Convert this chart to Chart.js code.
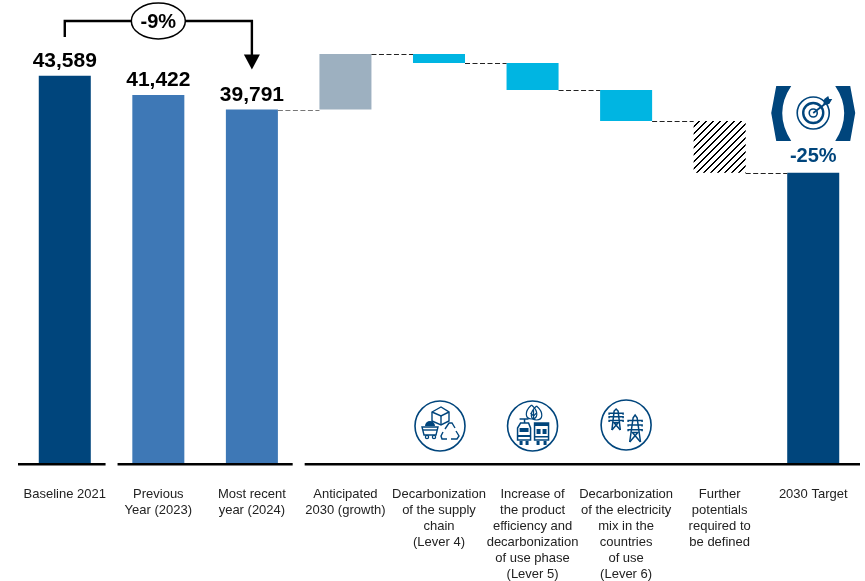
<!DOCTYPE html>
<html>
<head>
<meta charset="utf-8">
<title>Waterfall 2030</title>
<script src="https://cdn.jsdelivr.net/npm/chart.js"></script>
<style>
    html, body { margin: 0; padding: 0; background: #fff; }
    canvas { display: block; }
</style>
</head>
<body>
<canvas id="waterfallChart" width="865" height="581"></canvas>
<script>
// Dados
const categories = [
    ['Baseline 2021'],
    ['Previous', 'Year (2023)'],
    ['Most recent', 'year (2024)'],
    ['Anticipated', '2030 (growth)'],
    ['Decarbonization', 'of the supply', 'chain', '(Lever 4)'],
    ['Increase of', 'the product', 'efficiency and', 'decarbonization', 'of use phase', '(Lever 5)'],
    ['Decarbonization', 'of the electricity', 'mix in the', 'countries', 'of use', '(Lever 6)'],
    ['Further', 'potentials', 'required to', 'be defined'],
    ['2030 Target']
];
const barLows = [0, 0, 0, 39791, 45030, 41990, 38520, 32692, 0];
const barHighs = [43589, 41422, 39791, 46043, 46043, 45030, 41990, 38520, 32692];
const valueLabels = ['43,589', '41,422', '39,791'];
const connectorLevels = [39791, 46043, 45030, 41990, 38520, 32692];
const axisGroups = [[0, 0], [1, 2], [3, 8]];
const yMax = 52100;

const DARK = '#00457c';
const MID = '#3e78b6';
const GREY = '#9db0c0';
const CYAN = '#00b5e2';

// Padrão hachurado da barra "Further potentials"
function createHatch() {
    const size = 7;
    const c = document.createElement('canvas');
    c.width = size;
    c.height = size;
    const p = c.getContext('2d');
    p.fillStyle = '#fff';
    p.fillRect(0, 0, size, size);
    p.fillStyle = '#000';
    for (let y = 0; y < size; y++) {
        for (let k = 0; k < 2; k++) {
            p.fillRect((size * 2 - y + k) % size, y, 1, 1);
        }
    }
    return p.createPattern(c, 'repeat');
}

function ring(ctx, x, y, r, width, color) {
    ctx.beginPath();
    ctx.arc(x, y, r, 0, Math.PI * 2);
    ctx.lineWidth = width;
    ctx.strokeStyle = color;
    ctx.stroke();
}

function poly(ctx, pts, close) {
    ctx.beginPath();
    pts.forEach((p, i) => i ? ctx.lineTo(p[0], p[1]) : ctx.moveTo(p[0], p[1]));
    if (close) ctx.closePath();
    ctx.stroke();
}

// Ícone alavanca 4: caixa, carrinho, reciclagem
function iconSupply(ctx, x, y) {
    ring(ctx, x, y, 25, 1.6, DARK);
    ctx.strokeStyle = DARK;
    ctx.fillStyle = DARK;
    ctx.lineWidth = 1.4;
    // caixa
    poly(ctx, [[x - 8, y - 14], [x + 1, y - 19], [x + 9, y - 14], [x + 9, y - 5], [x + 1, y - 1], [x - 8, y - 5]], true);
    poly(ctx, [[x - 8, y - 14], [x + 1, y - 10], [x + 9, y - 14]]);
    poly(ctx, [[x + 1, y - 10], [x + 1, y - 1]]);
    // carrinho
    ctx.beginPath();
    ctx.arc(x - 10, y + 0, 5, Math.PI, 0);
    ctx.fill();
    ctx.strokeStyle = DARK;
    poly(ctx, [[x - 18, y + 1], [x - 2, y + 1], [x - 4, y + 9], [x - 16, y + 9]], true);
    poly(ctx, [[x - 17, y + 4], [x - 3, y + 4]]);
    ring(ctx, x - 13, y + 11, 1.6, 1.3, DARK);
    ring(ctx, x - 6, y + 11, 1.6, 1.3, DARK);
    // reciclagem
    ctx.lineWidth = 1.4;
    poly(ctx, [[x + 5, y + 3], [x + 9, y - 3], [x + 12, y - 3], [x + 15, y + 2]]);
    poly(ctx, [[x + 16, y + 5], [x + 19, y + 10], [x + 17, y + 13], [x + 11, y + 13]]);
    poly(ctx, [[x + 7, y + 13], [x + 2, y + 13], [x + 1, y + 10], [x + 3, y + 6]]);
}

// Ícone alavanca 5: folha, trem, ônibus
function iconUse(ctx, x, y) {
    ring(ctx, x, y, 25, 1.6, DARK);
    ctx.strokeStyle = DARK;
    ctx.fillStyle = DARK;
    ctx.lineWidth = 1.2;
    // gotas com folha
    [[-1, -21, 6], [4, -20, 6]].forEach(d => {
        ctx.beginPath();
        ctx.moveTo(x + d[0], y + d[1]);
        ctx.bezierCurveTo(x + d[0] + d[2] + 2, y + d[1] + 7, x + d[0] + d[2], y + d[1] + 14, x + d[0], y + d[1] + 14);
        ctx.bezierCurveTo(x + d[0] - d[2], y + d[1] + 14, x + d[0] - d[2] - 2, y + d[1] + 7, x + d[0], y + d[1]);
        ctx.stroke();
    });
    poly(ctx, [[x + 1, y - 16], [x + 1, y - 7]]);
    poly(ctx, [[x - 2, y - 13], [x + 1, y - 10], [x + 4, y - 13]]);
    // trem
    ctx.lineWidth = 1.5;
    poly(ctx, [[x - 13, y - 7], [x - 4, y - 7]]);
    poly(ctx, [[x - 8, y - 7], [x - 8, y - 3]]);
    poly(ctx, [[x - 12, y - 3], [x - 4, y - 3], [x - 2, y + 2], [x - 2, y + 14], [x - 15, y + 14], [x - 15, y + 2]], true);
    ctx.fillRect(x - 13, y + 2, 9, 4);
    ctx.fillRect(x - 15, y + 9, 13, 2);
    ctx.fillRect(x - 13, y + 15, 3, 4);
    ctx.fillRect(x - 7, y + 15, 3, 4);
    // ônibus
    poly(ctx, [[x + 2, y - 3], [x + 16, y - 3], [x + 16, y + 14], [x + 2, y + 14]], true);
    ctx.fillRect(x + 2, y - 3, 14, 3);
    ctx.fillRect(x + 4, y + 3, 4, 5);
    ctx.fillRect(x + 10, y + 3, 4, 5);
    ctx.fillRect(x + 2, y + 10, 14, 1.5);
    ctx.fillRect(x + 4, y + 15, 3, 4);
    ctx.fillRect(x + 11, y + 15, 3, 4);
}

function pylon(ctx, x, top, h) {
    poly(ctx, [[x - h * 0.2, top + h], [x - 2, top + h * 0.1], [x, top], [x + 2, top + h * 0.1], [x + h * 0.2, top + h]]);
    poly(ctx, [[x - h * 0.2, top + h], [x + h * 0.1, top + h * 0.65], [x - h * 0.1, top + h * 0.65], [x + h * 0.2, top + h]]);
    [0.2, 0.37, 0.55].forEach(f => poly(ctx, [[x - 7, top + h * f + 1.5], [x - 7, top + h * f], [x + 7, top + h * f], [x + 7, top + h * f + 1.5]]));
}

// Ícone alavanca 6: torres de eletricidade
function iconGrid(ctx, x, y) {
    ring(ctx, x, y, 25, 1.6, DARK);
    ctx.strokeStyle = DARK;
    ctx.lineWidth = 1.5;
    pylon(ctx, x - 10, y - 16, 21);
    pylon(ctx, x + 9, y - 10, 27);
}

// Ícone de alvo com colchetes, acima da barra 2030
function iconTarget(ctx, x, y) {
    ctx.fillStyle = DARK;
    [-1, 1].forEach(s => {
        ctx.beginPath();
        ctx.moveTo(x + s * 37, y - 27);
        ctx.lineTo(x + s * 22, y - 27);
        ctx.quadraticCurveTo(x + s * 40, y, x + s * 22, y + 28);
        ctx.lineTo(x + s * 37, y + 28);
        ctx.lineTo(x + s * 42, y);
        ctx.closePath();
        ctx.fill();
    });
    ring(ctx, x, y, 16, 1.6, DARK);
    ring(ctx, x, y, 10, 2.4, DARK);
    ring(ctx, x, y, 4, 1.6, DARK);
    ctx.strokeStyle = DARK;
    ctx.lineWidth = 1.8;
    poly(ctx, [[x, y], [x + 13, y - 10]]);
    ctx.fillStyle = DARK;
    ctx.beginPath();
    ctx.moveTo(x + 10, y - 8);
    ctx.lineTo(x + 11, y - 14);
    ctx.lineTo(x + 15, y - 17);
    ctx.lineTo(x + 16, y - 14);
    ctx.lineTo(x + 19, y - 14);
    ctx.lineTo(x + 16, y - 9);
    ctx.closePath();
    ctx.fill();
}

const waterfallExtras = {
    id: 'waterfallExtras',
    afterDatasetsDraw(chart) {
        const ctx = chart.ctx;
        const xs = chart.scales.x;
        const ys = chart.scales.y;
        const bars = chart.getDatasetMeta(0).data;
        const step = xs.getPixelForTick(1) - xs.getPixelForTick(0);
        const base = ys.getPixelForValue(0);
        ctx.save();

        // Linhas tracejadas entre as barras
        connectorLevels.forEach((level, i) => {
            const a = bars[i + 2];
            const b = bars[i + 3];
            const y = Math.round(ys.getPixelForValue(level)) + 0.5;
            ctx.beginPath();
            ctx.setLineDash([5, 2.5]);
            ctx.lineWidth = 1.2;
            ctx.strokeStyle = i === 0 ? '#777' : '#222';
            ctx.moveTo(a.x + a.width / 2, y);
            ctx.lineTo(b.x - b.width / 2, y);
            ctx.stroke();
        });
        ctx.setLineDash([]);

        // Eixo quebrado em três trechos
        ctx.fillStyle = '#000';
        axisGroups.forEach(g => {
            const left = xs.getPixelForTick(g[0]) - step / 2 + (g[0] === 0 ? 0 : 6);
            const right = xs.getPixelForTick(g[1]) + step / 2 - (g[1] === categories.length - 1 ? 0 : 6);
            ctx.fillRect(left, base - 1, right - left, 2.5);
        });

        // Valores acima das barras
        ctx.textAlign = 'center';
        ctx.textBaseline = 'alphabetic';
        ctx.font = 'bold 21px "Liberation Sans"';
        ctx.fillStyle = '#000';
        valueLabels.forEach((label, i) => {
            ctx.fillText(label, bars[i].x, bars[i].y - 9);
        });

        // Seta -9%
        const x0 = bars[0].x;
        const x2 = bars[2].x;
        const xm = bars[1].x;
        const bracketY = 21;
        const tipY = bars[2].y - 40;
        ctx.strokeStyle = '#000';
        ctx.lineWidth = 2.4;
        ctx.beginPath();
        ctx.moveTo(x0, bracketY + 16);
        ctx.lineTo(x0, bracketY);
        ctx.lineTo(x2, bracketY);
        ctx.lineTo(x2, tipY - 14);
        ctx.stroke();
        ctx.fillStyle = '#000';
        ctx.beginPath();
        ctx.moveTo(x2 - 8, tipY - 15);
        ctx.lineTo(x2 + 8, tipY - 15);
        ctx.lineTo(x2, tipY);
        ctx.closePath();
        ctx.fill();
        ctx.beginPath();
        ctx.ellipse(xm, bracketY, 27, 18, 0, 0, Math.PI * 2);
        ctx.fillStyle = '#fff';
        ctx.fill();
        ctx.lineWidth = 1.5;
        ctx.stroke();
        ctx.fillStyle = '#000';
        ctx.font = 'bold 20px "Liberation Sans"';
        ctx.textBaseline = 'middle';
        ctx.fillText('-9%', xm, bracketY + 1);

        // Meta -25%
        const target = bars[8];
        ctx.fillStyle = DARK;
        ctx.fillText('-25%', target.x, target.y - 16);
        iconTarget(ctx, target.x, 113);

        // Ícones das alavancas
        iconSupply(ctx, bars[4].x + 1, 426);
        iconUse(ctx, bars[5].x, 426);
        iconGrid(ctx, bars[6].x, 425);

        ctx.restore();
    }
};

function createWaterfallChart() {
    const ctx = document.getElementById('waterfallChart').getContext('2d');
    const data = {
        labels: categories,
        datasets: [{
            data: barLows.map((low, i) => [low, barHighs[i]]),
            backgroundColor: [DARK, MID, MID, GREY, CYAN, CYAN, CYAN, createHatch(), DARK],
            barPercentage: 1,
            categoryPercentage: 0.556,
            borderSkipped: false
        }]
    };

    new Chart(ctx, {
        type: 'bar',
        data: data,
        plugins: [waterfallExtras],
        options: {
            responsive: false,
            animation: false,
            layout: {
                padding: { left: 18, right: 5, top: 0, bottom: 0 }
            },
            plugins: {
                legend: { display: false },
                tooltip: { enabled: false }
            },
            scales: {
                x: {
                    grid: { display: false },
                    border: { display: false },
                    afterFit(scale) {
                        scale.height = 117;
                        scale.paddingLeft = 0;
                        scale.paddingRight = 0;
                    },
                    ticks: {
                        autoSkip: false,
                        maxRotation: 0,
                        padding: 14,
                        color: '#222',
                        font: { family: '"Liberation Sans"', size: 13, lineHeight: 1.23 }
                    }
                },
                y: {
                    display: false,
                    min: 0,
                    max: yMax
                }
            }
        }
    });
}

createWaterfallChart();
</script>
</body>
</html>
